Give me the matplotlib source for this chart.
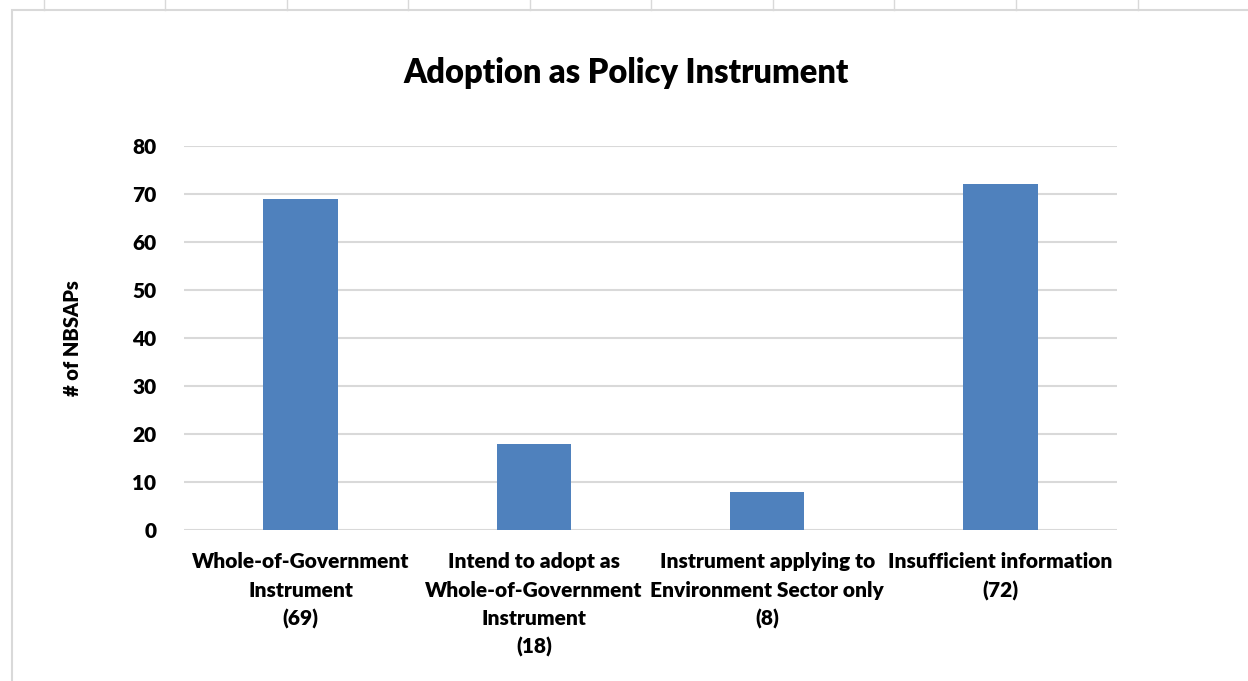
import matplotlib.pyplot as plt
from matplotlib.lines import Line2D
from matplotlib.patches import Rectangle

categories = ["Whole-of-Government\nInstrument\n(69)",
              "Intend to adopt as\nWhole-of-Government\nInstrument\n(18)",
              "Instrument applying to\nEnvironment Sector only\n(8)",
              "Insufficient information\n(72)"]
counts = [69, 18, 8, 72]
yticks = [0, 10, 20, 30, 40, 50, 60, 70, 80]

plt.rcParams['font.family'] = ['Lato', 'DejaVu Sans']

fig = plt.figure(figsize=(12.48, 6.81), dpi=100)
ax = fig.add_axes([184/1248, 1-530/681, (1117-184)/1248, (530-146)/681])

x = range(len(counts))
ax.bar(x, counts, width=0.32, color='#4F81BD', zorder=3)
ax.set_xlim(-0.5, len(counts)-0.5)
ax.set_ylim(0, 80)
ax.set_yticks(yticks)
ax.set_xticks(list(x))
ax.set_xticklabels(categories, fontsize=15, fontweight='heavy', linespacing=1.58)
ax.tick_params(axis='y', labelsize=15, length=0, pad=20)
ax.tick_params(axis='x', length=0, pad=16)
for t in ax.get_yticklabels():
    t.set_fontweight('heavy')
ax.grid(axis='y', color='#D9D9D9', linewidth=1.5, zorder=0)
for s in ax.spines.values():
    s.set_visible(False)

ax.set_ylabel('# of NBSAPs', fontsize=14.5, fontweight='heavy', labelpad=36)
fig.text(626/1248, 1-73/681, 'Adoption as Policy Instrument', ha='center', va='center',
         fontsize=23.5, fontweight='heavy')

# chart frame and sheet column marks
fig.add_artist(Rectangle((12/1248, -0.1), 1.2, 1-10/681+0.1, transform=fig.transFigure,
                         fill=False, edgecolor='#D9D9D9', linewidth=1.5))
for cx in [44, 165, 287, 408, 530, 651, 773, 894, 1016, 1138]:
    fig.add_artist(Line2D([cx/1248, cx/1248], [1, 1-10/681], transform=fig.transFigure,
                          color='#D9D9D9', linewidth=1))

fig.savefig('out.png', dpi=100)
